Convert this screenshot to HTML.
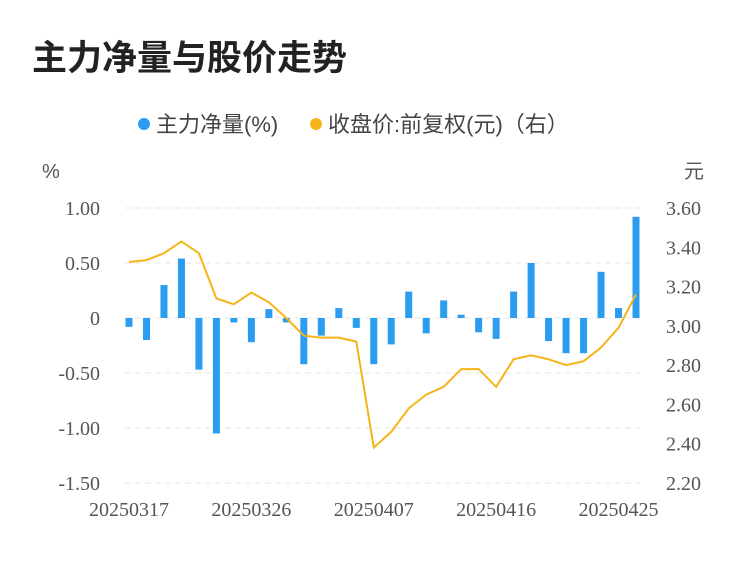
<!DOCTYPE html>
<html><head><meta charset="utf-8">
<style>
body{margin:0;background:#fff;}
svg text{font-family:"Liberation Serif","Noto Serif CJK SC",serif;}
.cjk{font-family:"Liberation Sans","Noto Sans CJK SC",sans-serif !important;}
</style></head>
<body>
<svg width="750" height="558" viewBox="0 0 750 558" xmlns="http://www.w3.org/2000/svg">
<text x="32" y="70" font-size="35" font-weight="bold" fill="#222" class="cjk">主力净量与股价走势</text>
<g>
<circle cx="144" cy="124" r="6" fill="#2b9cf0"/>
<text x="156" y="132" font-size="22" fill="#444" class="cjk">主力净量(%)</text>
<circle cx="316" cy="124" r="6" fill="#f5b41a"/>
<text x="328" y="132" font-size="22" fill="#444" class="cjk">收盘价:前复权(元)（右）</text>
</g>
<text x="42" y="178" font-size="20" fill="#555" class="cjk">%</text>
<text x="684" y="178" font-size="20" fill="#555" class="cjk">元</text>
<g id="grid"></g><g id="bars"></g><g id="line"></g><g id="axes"></g>
</svg>
<script>
const categories=["20250317","20250318","20250319","20250320","20250321","20250324","20250325","20250326","20250327","20250328","20250331","20250401","20250402","20250403","20250407","20250408","20250409","20250410","20250411","20250414","20250415","20250416","20250417","20250418","20250421","20250422","20250423","20250424","20250425","20250428"];
const netValues=[-0.08,-0.2,0.3,0.54,-0.47,-1.05,-0.04,-0.22,0.08,-0.04,-0.42,-0.16,0.09,-0.09,-0.42,-0.24,0.24,-0.14,0.16,0.03,-0.13,-0.19,0.24,0.5,-0.21,-0.32,-0.32,0.42,0.09,0.92];
const priceValues=[3.325,3.335,3.37,3.43,3.37,3.14,3.11,3.17,3.12,3.04,2.95,2.94,2.94,2.92,2.38,2.46,2.58,2.65,2.69,2.78,2.78,2.69,2.83,2.85,2.83,2.80,2.82,2.89,2.99,3.16];
const leftTicks=[1.0,0.5,0,-0.5,-1.0,-1.5];
const leftLabels=["1.00","0.50","0","-0.50","-1.00","-1.50"];
const rightTicks=[3.6,3.4,3.2,3.0,2.8,2.6,2.4,2.2];
const xLabelIdx=[0,7,14,21,28];
const NS="http://www.w3.org/2000/svg";
const yL=v=>208+(1.0-v)/2.5*275;
const yR=v=>208+(3.6-v)/1.4*275;
const xS=i=>129+i*(636-129)/(categories.length-1);
function mk(t,a,p){const e=document.createElementNS(NS,t);for(const k in a)e.setAttribute(k,a[k]);p.appendChild(e);return e;}
const grid=document.getElementById('grid'),axes=document.getElementById('axes');
leftTicks.forEach((v,i)=>{
 const g=mk('line',{x1:125,x2:640,y1:yL(v),y2:yL(v),stroke:'#e6e6e6','stroke-width':1,'stroke-dasharray':'6,4'},grid);
 
 
 const t=mk('text',{x:100,y:yL(v)+7,'font-size':20,fill:'#555','text-anchor':'end'},axes);
 t.textContent=leftLabels[i];
 
 
});
rightTicks.forEach(v=>{
 const t=mk('text',{x:666,y:yR(v)+7,'font-size':20,fill:'#555'},axes);
 t.textContent=v.toFixed(2);
 
 
});
xLabelIdx.forEach(i=>{
 const t=mk('text',{x:xS(i),y:516,'font-size':20,fill:'#555','text-anchor':'middle'},axes);
 t.textContent=categories[i];
 
 
});
const bars=document.getElementById('bars');
netValues.forEach((v,i)=>{
 const y0=yL(0),y1=yL(v);
 const r=mk('rect',{x:xS(i)-3.5,y:Math.min(y0,y1),width:7,height:Math.max(1,Math.abs(y1-y0)),fill:'#2b9cf0'},bars);
 
 
});
const pts=priceValues.map((v,i)=>xS(i).toFixed(1)+','+yR(v).toFixed(1)).join(' ');
const pl=mk('polyline',{points:pts,fill:'none',stroke:'#f5b41a','stroke-width':2},document.getElementById('line'));


</script>
</body></html>
